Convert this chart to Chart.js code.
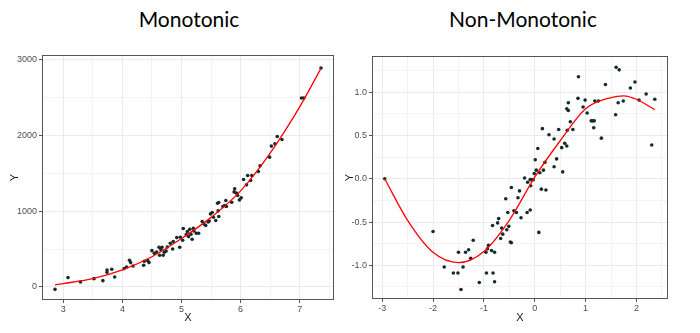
<!DOCTYPE html>
<html>
<head>
<meta charset="utf-8">
<script src="https://cdn.jsdelivr.net/npm/chart.js@4.4.1/dist/chart.umd.min.js"></script>
<style>
  html, body { margin: 0; padding: 0; background: #fff; }
  #wrap { position: relative; width: 700px; height: 333px; overflow: hidden; background: #fff; }
  .ttl { position: absolute; top: 6px; font-family: Lato, "Open Sans", sans-serif; font-size: 21px; color: #000; white-space: nowrap; transform: translateX(-50%); }
  canvas { position: absolute; top: 0; }
</style>
</head>
<body>
<div id="wrap">
  <div class="ttl" style="left:189px">Monotonic</div>
  <div class="ttl" style="left:523px">Non-Monotonic</div>
  <canvas id="c1" width="340" height="333" style="left:0;width:340px;height:333px"></canvas>
  <canvas id="c2" width="360" height="333" style="left:340px;width:360px;height:333px"></canvas>
</div>
<script>
// ---------- Monotonic panel data ----------
const monoX = [2.86,3.08,3.29,3.52,3.67,3.74,3.74,3.82,3.87,4.03,4.07,4.12,4.14,4.18,4.36,4.37,4.43,4.45,4.50,4.54,
  4.58,4.62,4.63,4.65,4.67,4.69,4.71,4.74,4.76,4.81,4.85,4.86,4.92,4.97,4.98,5.02,5.03,5.08,5.10,5.12,
  5.14,5.16,5.18,5.20,5.21,5.25,5.29,5.35,5.38,5.41,5.45,5.47,5.49,5.52,5.54,5.58,5.61,5.63,5.62,5.63,
  5.70,5.73,5.75,5.76,5.85,5.89,5.90,5.93,5.95,5.98,6.01,6.05,6.10,6.12,6.17,6.19,6.30,6.33,6.49,6.52,
  6.58,6.62,6.70,7.03,7.07,7.36];
const monoY = [-31,124,66,110,84,225,194,234,132,243,265,353,322,278,287,340,348,322,480,445,
  463,525,419,494,525,419,459,476,529,578,503,600,653,525,657,617,772,692,732,666,
  763,697,631,776,741,710,710,865,834,812,860,873,966,984,922,878,1107,1116,1006,931,
  1063,1076,1143,1063,1120,1257,1297,1240,1209,1151,1178,1420,1350,1473,1407,1473,1526,1601,1716,1862,
  1892,1989,1950,2497,2497,2894];
const monoFitX = [2.86,3.0,3.5,4.0,4.5,5.0,5.5,6.0,6.5,7.0,7.36];
const monoFitY = [28,45,110,225,400,640,920,1270,1770,2380,2890];
const monoXMajor = [3,4,5,6,7];
const monoXMinor = [3.5,4.5,5.5,6.5,7.5];
const monoYMajor = [0,1000,2000,3000];
const monoYMinor = [500,1500,2500];

// ---------- Non-Monotonic panel data ----------
const nonX = [-2.95,-2.00,-1.78,-1.60,-1.51,-1.50,-1.45,-1.41,-1.36,-1.30,-1.26,-1.21,-1.09,-0.96,-0.95,-0.93,-0.91,-0.85,-0.83,-0.82,
  -0.79,-0.79,-0.73,-0.71,-0.67,-0.65,-0.63,-0.57,-0.55,-0.53,-0.51,-0.48,-0.46,-0.46,-0.41,-0.36,-0.33,-0.30,-0.27,-0.20,
  -0.15,-0.14,-0.09,-0.09,-0.08,-0.05,-0.03,-0.01,0.01,0.03,0.06,0.08,0.10,0.13,0.15,0.17,0.20,0.22,0.28,0.38,
  0.38,0.43,0.47,0.53,0.55,0.59,0.63,0.63,0.64,0.66,0.66,0.70,0.75,0.85,0.86,0.95,0.99,1.03,1.11,1.14,
  1.16,1.17,1.18,1.25,1.31,1.39,1.59,1.60,1.64,1.66,1.74,1.88,1.97,2.05,2.19,2.30,2.36];
const nonY = [0.00,-0.61,-1.02,-1.09,-1.09,-0.85,-1.28,-1.02,-0.85,-0.82,-0.92,-0.71,-1.20,-0.85,-1.09,-0.81,-0.77,-0.83,-0.54,-1.09,
  -0.85,-1.19,-0.51,-0.46,-0.69,-0.57,-0.64,-0.23,-0.59,-0.39,-0.55,-0.73,-0.74,-0.10,-0.37,-0.39,-0.22,-0.14,-0.45,0.01,
  -0.39,-0.04,-0.01,-0.36,-0.08,-0.01,-0.01,0.06,0.22,0.10,0.35,-0.62,0.07,-0.12,0.58,0.10,0.19,-0.13,0.51,0.46,
  0.14,0.23,0.57,0.36,0.08,0.41,0.81,0.38,0.56,0.79,0.88,0.66,0.57,0.93,1.18,0.83,0.91,0.76,0.67,0.67,
  0.59,0.67,0.90,0.90,0.47,1.09,0.74,1.29,0.88,1.26,0.90,1.05,1.12,0.91,0.98,0.39,0.92];
const nonFitX = [-2.95,-2.5,-2.0,-1.5,-1.0,-0.5,0.0,0.5,1.0,1.5,1.75,2.0,2.36];
const nonFitY = [0.00,-0.48,-0.85,-0.97,-0.84,-0.48,0.02,0.44,0.81,0.94,0.96,0.92,0.80];
const nonXMajor = [-3,-2,-1,0,1,2];
const nonXMinor = [-2.5,-1.5,-0.5,0.5,1.5,2.5];
const nonYMajor = [-1.0,-0.5,0.0,0.5,1.0];
const nonYMinor = [-1.25,-0.75,-0.25,0.25,0.75,1.25];

const zip = (xs, ys) => xs.map((x, i) => ({x: x, y: ys[i]}));

const framePlugin = {
  id: 'frame',
  afterDraw(chart) {
    const a = chart.chartArea, ctx = chart.ctx;
    ctx.save();
    ctx.strokeStyle = '#555555';
    ctx.lineWidth = 1;
    ctx.strokeRect(Math.round(a.left) + 0.5, Math.round(a.top) + 0.5,
      Math.round(a.right - a.left) - 1, Math.round(a.bottom - a.top) - 1);
    ctx.restore();
  }
};

function axis(opts) {
  const major = opts.major, minor = opts.minor;
  const all = major.concat(minor).sort((a, b) => a - b);
  const isMajor = v => major.some(m => Math.abs(m - v) < 1e-9);
  return {
    type: 'linear',
    position: opts.position,
    min: opts.min, max: opts.max,
    afterBuildTicks: s => { s.ticks = all.map(v => ({value: v})); },
    afterFit: s => { if (opts.position === 'left') s.width = opts.size; else s.height = opts.size; },
    border: {display: false},
    grid: {
      color: c => (c.tick && isMajor(c.tick.value)) ? '#EAEAEA' : '#F3F3F3',
      lineWidth: 1,
      tickLength: 3,
      tickColor: c => (c.tick && isMajor(c.tick.value)) ? '#555555' : 'rgba(0,0,0,0)'
    },
    ticks: {
      autoSkip: false, maxRotation: 0, minRotation: 0,
      padding: opts.position === 'left' ? 2 : 1,
      color: '#4D4D4D',
      font: {family: '"Liberation Sans", Arial, sans-serif', size: 9},
      callback: v => isMajor(v) ? opts.fmt(v) : ''
    },
    title: {
      display: true, text: opts.title, color: '#1A1A1A',
      font: {family: '"Liberation Sans", Arial, sans-serif', size: 11},
      padding: opts.titlePad
    }
  };
}

function makeChart(id, pts, fit, xs, ys, pad) {
  return new Chart(document.getElementById(id), {
    type: 'scatter',
    data: {
      datasets: [
        {type: 'line', data: fit, borderColor: '#FF0000', borderWidth: 1.3, pointRadius: 0,
         tension: 0.4, cubicInterpolationMode: 'monotone', fill: false},
        {data: pts, pointRadius: 1.8, pointBackgroundColor: '#152B2B', pointBorderWidth: 0}
      ]
    },
    options: {
      responsive: false, animation: false, devicePixelRatio: 1,
      layout: {padding: pad},
      plugins: {legend: {display: false}, tooltip: {enabled: false}},
      scales: {x: xs, y: ys}
    },
    plugins: [framePlugin]
  });
}

makeChart('c1', zip(monoX, monoY), zip(monoFitX, monoFitY),
  axis({position: 'bottom', min: 2.64, max: 7.58, major: monoXMajor, minor: monoXMinor, size: 33,
        title: 'X', titlePad: {top: 0, bottom: 8}, fmt: v => String(v)}),
  axis({position: 'left', min: -172, max: 3066, major: monoYMajor, minor: monoYMinor, size: 42,
        title: 'Y', titlePad: {top: 8, bottom: 0}, fmt: v => String(v)}),
  {top: 55, right: 6, bottom: 0, left: 0});

makeChart('c2', zip(nonX, nonY), zip(nonFitX, nonFitY),
  axis({position: 'bottom', min: -3.2, max: 2.62, major: nonXMajor, minor: nonXMinor, size: 34,
        title: 'X', titlePad: {top: 0, bottom: 8}, fmt: v => String(v)}),
  axis({position: 'left', min: -1.39, max: 1.42, major: nonYMajor, minor: nonYMinor, size: 32,
        title: 'Y', titlePad: {top: 3, bottom: 0}, fmt: v => v.toFixed(1)}),
  {top: 56, right: 32, bottom: 0, left: 0});
</script>
</body>
</html>
